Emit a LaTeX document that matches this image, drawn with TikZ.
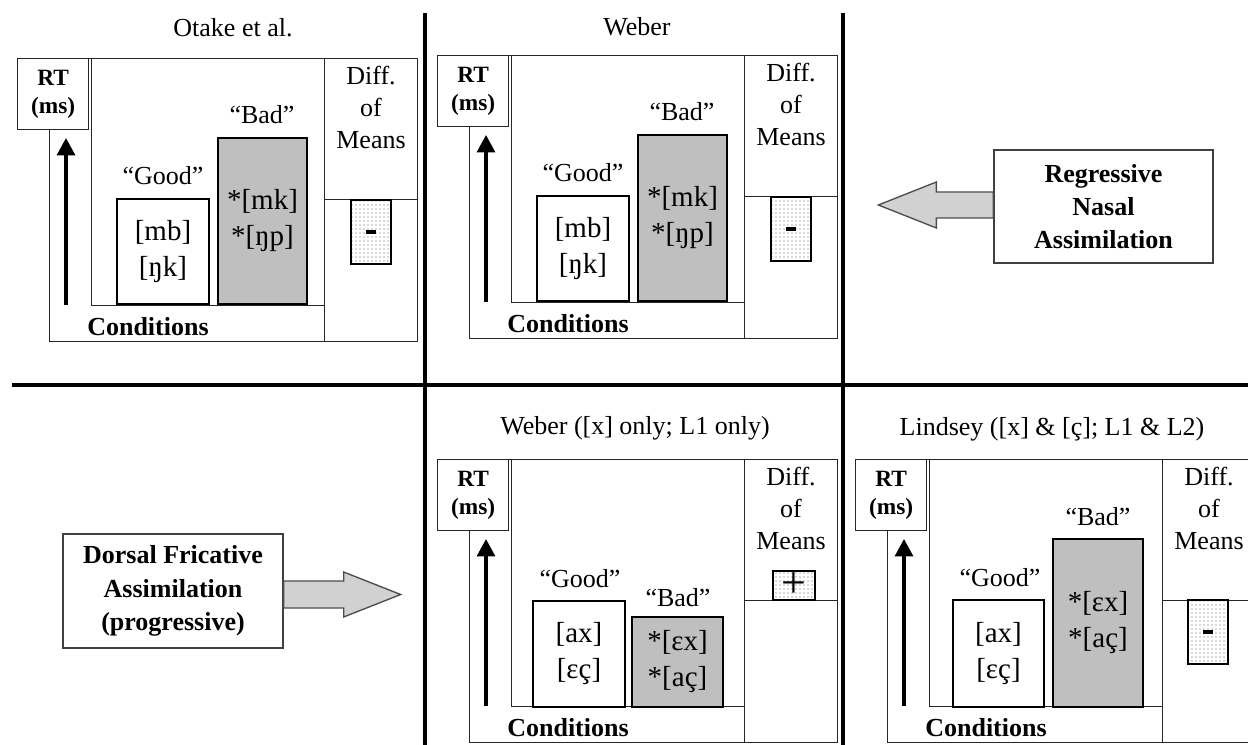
\documentclass[tikz,border=0pt]{standalone}
\usepackage{fontspec}
\setmainfont{Liberation Serif}
\usetikzlibrary{arrows.meta,patterns}

\tikzset{
  boxsize/.style 2 args={minimum width=#1*0.75pt, minimum height=#2*0.75pt},
  frame/.style={draw=black!85, line width=1pt, fill=white, inner sep=0pt},
  condbox/.style={draw=black, line width=2pt, inner sep=0pt, align=center, font=\fontsize{21.75}{27}\selectfont},
  goodbox/.style={condbox, fill=white},
  badbox/.style={condbox, fill=black!25},
  dotbox/.style={draw=black, line width=1.8pt, inner sep=0pt, preaction={fill=white}, pattern=dots, pattern color=black!65},
  rtarrow/.style={line width=2.3pt, -{Triangle[width=13.5pt,length=13pt]}},
  divider/.style={line width=2.3pt},
  sidebox/.style={draw=black!75, line width=1pt, inner sep=0pt, align=center, font=\fontsize{19.5}{25}\selectfont\bfseries},
  blockarrow/.style={draw=black!70, line width=1pt, fill=black!18},
}
\newcommand{\minusbar}{\rule{7.5pt}{2.6pt}}

\begin{document}
\begin{tikzpicture}[x=0.75pt, y=-0.75pt, every node/.style={font=\fontsize{19.5}{24}\selectfont}]
  \useasboundingbox (0,0) rectangle (1248,745);
  \clip (0,0) rectangle (1248,745);

  % quadrant rules
  \draw[divider] (12,385) -- (1248,385);
  \draw[divider] (425,13) -- (425,745);
  \draw[divider] (843,13) -- (843,745);

  % titles
  \node (otatitle) at (233,28) {Otake et al.};
  \node (webtitle) at (637,27) {Weber};
  \node (webxtitle) at (635,428) {Weber ([x] only; L1 only)};
  \node (lintitle) at (1052,429) {Lindsey ([x] \& [ç]; L1 \& L2)};

  % common plot frame
  \foreach \ox/\oy/\pn in {17/58/ota, 437/55/web, 437/459/webx, 855/459/lin}{
    \begin{scope}[shift={(\ox,\oy)}, name prefix=\pn-]
      \node[frame, anchor=north west, boxsize={275}{283}] (outer) at (32,0) {};
      \node[frame, anchor=north west, boxsize={233}{247}] (plot) at (74,0) {};
      \node[frame, anchor=north west, boxsize={93}{141}] (diffup) at (307,0) {};
      \node[frame, anchor=north west, boxsize={93}{142}] (difflow) at (307,141) {};
      \node[frame, anchor=north west, boxsize={71}{71}, align=center, font=\fontsize{17.5}{21}\selectfont\bfseries] (rt) at (0,0) {RT\\(ms)};
      \node[font=\fontsize{19.5}{24}\selectfont\bfseries] (cond) at (131,269) {Conditions};
      \node[align=center] (means) at (354,49) {Diff.\\of\\Means};
      \coordinate (abase) at (49,247);
      \coordinate (atip) at (49,80);
      \draw[rtarrow] (abase) -- (atip);
    \end{scope}
  }

  % nasal place: Otake et al. and Weber
  \foreach \ox/\oy/\pn in {17/58/ota, 437/55/web}{
    \begin{scope}[shift={(\ox,\oy)}, name prefix=\pn-]
      \node (goodlbl) at (146,118) {“Good”};
      \node[goodbox, boxsize={92}{105}] (good) at (146,193.5) {[mb]\\{}[ŋk]};
      \node (badlbl) at (245,57) {“Bad”};
      \node[badbox, boxsize={89}{166}] (bad) at (245.5,163) {*[mk]\\{}*[ŋp]};
      \node[dotbox, boxsize={40}{64}] (mean) at (354,174) {\minusbar};
    \end{scope}
  }

  % dorsal fricatives: Weber
  \begin{scope}[shift={(437,459)}, name prefix=webx-]
    \node (goodlbl) at (143,120) {“Good”};
    \node[goodbox, boxsize={92}{106}] (good) at (142,195) {[ax]\\{}[εç]};
    \node (badlbl) at (241,139) {“Bad”};
    \node[badbox, boxsize={91}{90}] (bad) at (240.5,203) {*[εx]\\{}*[aç]};
    \node[dotbox, boxsize={42}{29}, font=\fontsize{33}{33}\selectfont] (mean) at (357,126.5) {+};
  \end{scope}

  % dorsal fricatives: Lindsey
  \begin{scope}[shift={(855,459)}, name prefix=lin-]
    \node (goodlbl) at (145,119) {“Good”};
    \node[goodbox, boxsize={91}{107}] (good) at (143.5,194.5) {[ax]\\{}[εç]};
    \node (badlbl) at (243,58) {“Bad”};
    \node[badbox, boxsize={90}{168}] (bad) at (243,164) {*[εx]\\{}*[aç]};
    \node[dotbox, boxsize={40}{64}] (mean) at (353,173) {\minusbar};
  \end{scope}

  % assimilation boxes
  \node[sidebox, boxsize={219}{113}] (regbox) at (1103.5,206.5) {Regressive\\Nasal\\Assimilation};
  \draw[blockarrow] (regbox.west) ++(0,-14.5) -- ++(-57,0) -- ++(0,-10) -- ++(-58,23) -- ++(58,23) -- ++(0,-10) -- ++(57,0) -- cycle;

  \node[sidebox, boxsize={220}{114}] (dorsbox) at (173,591) {Dorsal Fricative\\Assimilation\\(progressive)};
  \draw[blockarrow] (dorsbox.east) ++(0,-10) -- ++(60,0) -- ++(0,-9) -- ++(57,22.5) -- ++(-57,22.5) -- ++(0,-9) -- ++(-60,0) -- cycle;
\end{tikzpicture}
\end{document}
